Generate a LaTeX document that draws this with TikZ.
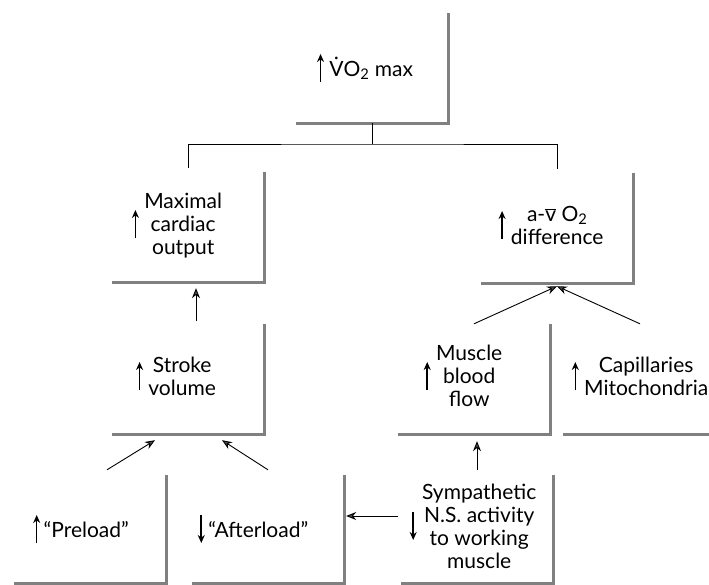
\documentclass[tikz,border=0pt]{standalone}
\usepackage{fontspec}
\setmainfont{Lato}
\usetikzlibrary{arrows.meta,positioning}
\newcommand{\upar}{\raisebox{3pt}{$\vcenter{\hbox{\tikz\draw[line width=1.6pt,-{Stealth[length=8pt,width=7pt]}] (0pt,0pt)--(0pt,28pt);}}$}}
\newcommand{\downar}{\raisebox{3pt}{$\vcenter{\hbox{\tikz\draw[line width=1.6pt,-{Stealth[length=8pt,width=7pt]}] (0pt,28pt)--(0pt,0pt);}}$}}
\newcommand{\stacktext}[1]{\begin{tabular}{@{}c@{}}#1\end{tabular}}

\begin{document}
\begin{tikzpicture}[x=1pt, y=-1pt,
  box/.style={minimum width=152pt, minimum height=110pt, inner sep=0pt, align=center,
    font=\fontsize{21}{23}\selectfont, execute at end node={\hspace*{#1}}},
  box/.default=16pt,
  frame/.style={draw=black!50, line width=3pt},
  link/.style={draw=black, line width=0.9pt},
  flow/.style={draw=black, line width=0.9pt, -{Stealth[length=10pt,width=8pt,fill=black!70]}}]
  \useasboundingbox (0,0) rectangle (709,584);
  \node[box=14pt] (vo2) at (372,68) {\upar\ \.{V}O\textsubscript{2} max};
  \node[box=22pt] (cardiac) at (188,227) {\upar\ \stacktext{Maximal\\cardiac\\output}};
  \node[box=12pt] (avdiff) at (557,228) {\upar\ \stacktext{a-$\overline{\mbox{v}}$ O\textsubscript{2}\\difference}};
  \node[box=24pt] (stroke) at (188,379) {\upar\ \stacktext{Stroke\\volume}};
  \node[box=22pt] (blood) at (474,379) {\upar\ \stacktext{Muscle\\blood\\flow}};
  \node[box=0pt, minimum width=154pt] (capill) at (640,379) {\upar\ \stacktext{Capillaries\\Mitochondria}};
  \node[box=18pt, minimum height=108pt] (preload) at (90,529) {\upar\,“Preload”};
  \node[box=30pt, minimum height=108pt] (afterload) at (268,529) {\downar\,“Afterload”};
  \node[box=8pt, minimum height=108pt] (symp) at (477,529) {\downar\ \stacktext{Sympathetic\\N.S. activity\\to working\\muscle}};
  % open frames
  \foreach \n in {vo2,cardiac,avdiff,stroke,blood,capill,preload,afterload,symp}
    \draw[frame] (\n.north east) -- (\n.south east) -- (\n.south west);
  \coordinate (split) at (372,144);
  \draw[link] (vo2.south) -- (split);
  \draw[link] ([yshift=4pt]cardiac.north) |- (split) -| ([yshift=4pt]avdiff.north);
  \draw[flow] ([xshift=8pt,yshift=3pt]stroke.north) -- ([xshift=8pt,yshift=-6pt]cardiac.south);
  \draw[flow] (blood.north) -- ([yshift=-3pt]avdiff.south);
  \draw[flow] (capill.north) -- ([yshift=-3pt]avdiff.south);
  \draw[flow] ([shift={(17pt,5pt)}]preload.north) -- ([shift={(-33pt,-6pt)}]stroke.south);
  \draw[flow] ([yshift=5pt]afterload.north) -- ([shift={(34pt,-6pt)}]stroke.south);
  \draw[flow] ([yshift=5pt]symp.north) -- ([yshift=-7pt]symp.north |- blood.south);
  \draw[flow] ([shift={(-3pt,13pt)}]symp.west) -- ([shift={(2pt,13pt)}]afterload.east);
\end{tikzpicture}
\end{document}
